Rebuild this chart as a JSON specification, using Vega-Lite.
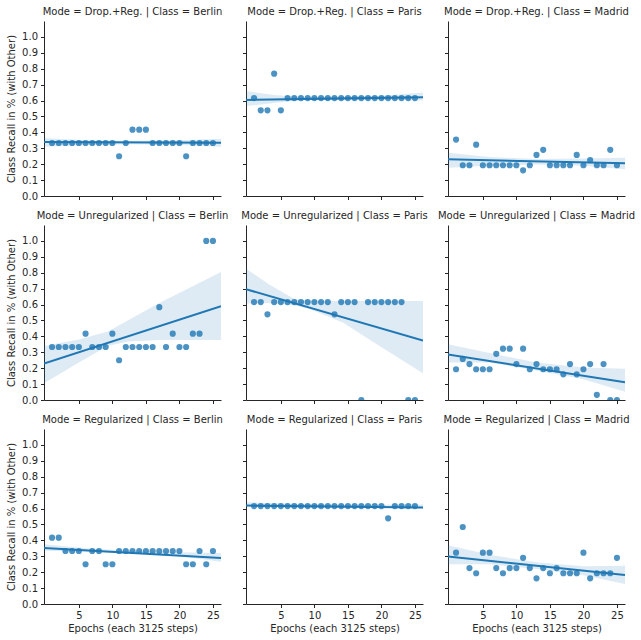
{
  "$schema": "https://vega.github.io/schema/vega-lite/v6.json",
  "padding": {"left": 6, "top": 7, "right": 10, "bottom": 8},
  "background": "white",
  "datasets": {
    "pts": [
      {"mode":"Drop.+Reg.","city":"Berlin","epoch":1,"recall":0.3333},{"mode":"Drop.+Reg.","city":"Berlin","epoch":2,"recall":0.3333},{"mode":"Drop.+Reg.","city":"Berlin","epoch":3,"recall":0.3333},{"mode":"Drop.+Reg.","city":"Berlin","epoch":4,"recall":0.3333},{"mode":"Drop.+Reg.","city":"Berlin","epoch":5,"recall":0.3333},{"mode":"Drop.+Reg.","city":"Berlin","epoch":6,"recall":0.3333},{"mode":"Drop.+Reg.","city":"Berlin","epoch":7,"recall":0.3333},{"mode":"Drop.+Reg.","city":"Berlin","epoch":8,"recall":0.3333},{"mode":"Drop.+Reg.","city":"Berlin","epoch":9,"recall":0.3333},{"mode":"Drop.+Reg.","city":"Berlin","epoch":10,"recall":0.3333},{"mode":"Drop.+Reg.","city":"Berlin","epoch":11,"recall":0.25},{"mode":"Drop.+Reg.","city":"Berlin","epoch":12,"recall":0.3333},{"mode":"Drop.+Reg.","city":"Berlin","epoch":13,"recall":0.4167},{"mode":"Drop.+Reg.","city":"Berlin","epoch":14,"recall":0.4167},{"mode":"Drop.+Reg.","city":"Berlin","epoch":15,"recall":0.4167},{"mode":"Drop.+Reg.","city":"Berlin","epoch":16,"recall":0.3333},{"mode":"Drop.+Reg.","city":"Berlin","epoch":17,"recall":0.3333},{"mode":"Drop.+Reg.","city":"Berlin","epoch":18,"recall":0.3333},{"mode":"Drop.+Reg.","city":"Berlin","epoch":19,"recall":0.3333},{"mode":"Drop.+Reg.","city":"Berlin","epoch":20,"recall":0.3333},{"mode":"Drop.+Reg.","city":"Berlin","epoch":21,"recall":0.25},{"mode":"Drop.+Reg.","city":"Berlin","epoch":22,"recall":0.3333},{"mode":"Drop.+Reg.","city":"Berlin","epoch":23,"recall":0.3333},{"mode":"Drop.+Reg.","city":"Berlin","epoch":24,"recall":0.3333},{"mode":"Drop.+Reg.","city":"Berlin","epoch":25,"recall":0.3333},
      {"mode":"Drop.+Reg.","city":"Paris","epoch":1,"recall":0.6154},{"mode":"Drop.+Reg.","city":"Paris","epoch":2,"recall":0.5385},{"mode":"Drop.+Reg.","city":"Paris","epoch":3,"recall":0.5385},{"mode":"Drop.+Reg.","city":"Paris","epoch":4,"recall":0.7692},{"mode":"Drop.+Reg.","city":"Paris","epoch":5,"recall":0.5385},{"mode":"Drop.+Reg.","city":"Paris","epoch":6,"recall":0.6154},{"mode":"Drop.+Reg.","city":"Paris","epoch":7,"recall":0.6154},{"mode":"Drop.+Reg.","city":"Paris","epoch":8,"recall":0.6154},{"mode":"Drop.+Reg.","city":"Paris","epoch":9,"recall":0.6154},{"mode":"Drop.+Reg.","city":"Paris","epoch":10,"recall":0.6154},{"mode":"Drop.+Reg.","city":"Paris","epoch":11,"recall":0.6154},{"mode":"Drop.+Reg.","city":"Paris","epoch":12,"recall":0.6154},{"mode":"Drop.+Reg.","city":"Paris","epoch":13,"recall":0.6154},{"mode":"Drop.+Reg.","city":"Paris","epoch":14,"recall":0.6154},{"mode":"Drop.+Reg.","city":"Paris","epoch":15,"recall":0.6154},{"mode":"Drop.+Reg.","city":"Paris","epoch":16,"recall":0.6154},{"mode":"Drop.+Reg.","city":"Paris","epoch":17,"recall":0.6154},{"mode":"Drop.+Reg.","city":"Paris","epoch":18,"recall":0.6154},{"mode":"Drop.+Reg.","city":"Paris","epoch":19,"recall":0.6154},{"mode":"Drop.+Reg.","city":"Paris","epoch":20,"recall":0.6154},{"mode":"Drop.+Reg.","city":"Paris","epoch":21,"recall":0.6154},{"mode":"Drop.+Reg.","city":"Paris","epoch":22,"recall":0.6154},{"mode":"Drop.+Reg.","city":"Paris","epoch":23,"recall":0.6154},{"mode":"Drop.+Reg.","city":"Paris","epoch":24,"recall":0.6154},{"mode":"Drop.+Reg.","city":"Paris","epoch":25,"recall":0.6154},
      {"mode":"Drop.+Reg.","city":"Madrid","epoch":1,"recall":0.3548},{"mode":"Drop.+Reg.","city":"Madrid","epoch":2,"recall":0.1935},{"mode":"Drop.+Reg.","city":"Madrid","epoch":3,"recall":0.1935},{"mode":"Drop.+Reg.","city":"Madrid","epoch":4,"recall":0.3226},{"mode":"Drop.+Reg.","city":"Madrid","epoch":5,"recall":0.1935},{"mode":"Drop.+Reg.","city":"Madrid","epoch":6,"recall":0.1935},{"mode":"Drop.+Reg.","city":"Madrid","epoch":7,"recall":0.1935},{"mode":"Drop.+Reg.","city":"Madrid","epoch":8,"recall":0.1935},{"mode":"Drop.+Reg.","city":"Madrid","epoch":9,"recall":0.1935},{"mode":"Drop.+Reg.","city":"Madrid","epoch":10,"recall":0.1935},{"mode":"Drop.+Reg.","city":"Madrid","epoch":11,"recall":0.1613},{"mode":"Drop.+Reg.","city":"Madrid","epoch":12,"recall":0.1935},{"mode":"Drop.+Reg.","city":"Madrid","epoch":13,"recall":0.2581},{"mode":"Drop.+Reg.","city":"Madrid","epoch":14,"recall":0.2903},{"mode":"Drop.+Reg.","city":"Madrid","epoch":15,"recall":0.1935},{"mode":"Drop.+Reg.","city":"Madrid","epoch":16,"recall":0.1935},{"mode":"Drop.+Reg.","city":"Madrid","epoch":17,"recall":0.1935},{"mode":"Drop.+Reg.","city":"Madrid","epoch":18,"recall":0.1935},{"mode":"Drop.+Reg.","city":"Madrid","epoch":19,"recall":0.2581},{"mode":"Drop.+Reg.","city":"Madrid","epoch":20,"recall":0.1935},{"mode":"Drop.+Reg.","city":"Madrid","epoch":21,"recall":0.2258},{"mode":"Drop.+Reg.","city":"Madrid","epoch":22,"recall":0.1935},{"mode":"Drop.+Reg.","city":"Madrid","epoch":23,"recall":0.1935},{"mode":"Drop.+Reg.","city":"Madrid","epoch":24,"recall":0.2903},{"mode":"Drop.+Reg.","city":"Madrid","epoch":25,"recall":0.1935},
      {"mode":"Unregularized","city":"Berlin","epoch":1,"recall":0.3333},{"mode":"Unregularized","city":"Berlin","epoch":2,"recall":0.3333},{"mode":"Unregularized","city":"Berlin","epoch":3,"recall":0.3333},{"mode":"Unregularized","city":"Berlin","epoch":4,"recall":0.3333},{"mode":"Unregularized","city":"Berlin","epoch":5,"recall":0.3333},{"mode":"Unregularized","city":"Berlin","epoch":6,"recall":0.4167},{"mode":"Unregularized","city":"Berlin","epoch":7,"recall":0.3333},{"mode":"Unregularized","city":"Berlin","epoch":8,"recall":0.3333},{"mode":"Unregularized","city":"Berlin","epoch":9,"recall":0.3333},{"mode":"Unregularized","city":"Berlin","epoch":10,"recall":0.4167},{"mode":"Unregularized","city":"Berlin","epoch":11,"recall":0.25},{"mode":"Unregularized","city":"Berlin","epoch":12,"recall":0.3333},{"mode":"Unregularized","city":"Berlin","epoch":13,"recall":0.3333},{"mode":"Unregularized","city":"Berlin","epoch":14,"recall":0.3333},{"mode":"Unregularized","city":"Berlin","epoch":15,"recall":0.3333},{"mode":"Unregularized","city":"Berlin","epoch":16,"recall":0.3333},{"mode":"Unregularized","city":"Berlin","epoch":17,"recall":0.5833},{"mode":"Unregularized","city":"Berlin","epoch":18,"recall":0.3333},{"mode":"Unregularized","city":"Berlin","epoch":19,"recall":0.4167},{"mode":"Unregularized","city":"Berlin","epoch":20,"recall":0.3333},{"mode":"Unregularized","city":"Berlin","epoch":21,"recall":0.3333},{"mode":"Unregularized","city":"Berlin","epoch":22,"recall":0.4167},{"mode":"Unregularized","city":"Berlin","epoch":23,"recall":0.4167},{"mode":"Unregularized","city":"Berlin","epoch":24,"recall":1.0},{"mode":"Unregularized","city":"Berlin","epoch":25,"recall":1.0},
      {"mode":"Unregularized","city":"Paris","epoch":1,"recall":0.6154},{"mode":"Unregularized","city":"Paris","epoch":2,"recall":0.6154},{"mode":"Unregularized","city":"Paris","epoch":3,"recall":0.5385},{"mode":"Unregularized","city":"Paris","epoch":4,"recall":0.6154},{"mode":"Unregularized","city":"Paris","epoch":5,"recall":0.6154},{"mode":"Unregularized","city":"Paris","epoch":6,"recall":0.6154},{"mode":"Unregularized","city":"Paris","epoch":7,"recall":0.6154},{"mode":"Unregularized","city":"Paris","epoch":8,"recall":0.6154},{"mode":"Unregularized","city":"Paris","epoch":9,"recall":0.6154},{"mode":"Unregularized","city":"Paris","epoch":10,"recall":0.6154},{"mode":"Unregularized","city":"Paris","epoch":11,"recall":0.6154},{"mode":"Unregularized","city":"Paris","epoch":12,"recall":0.6154},{"mode":"Unregularized","city":"Paris","epoch":13,"recall":0.5385},{"mode":"Unregularized","city":"Paris","epoch":14,"recall":0.6154},{"mode":"Unregularized","city":"Paris","epoch":15,"recall":0.6154},{"mode":"Unregularized","city":"Paris","epoch":16,"recall":0.6154},{"mode":"Unregularized","city":"Paris","epoch":17,"recall":0.0},{"mode":"Unregularized","city":"Paris","epoch":18,"recall":0.6154},{"mode":"Unregularized","city":"Paris","epoch":19,"recall":0.6154},{"mode":"Unregularized","city":"Paris","epoch":20,"recall":0.6154},{"mode":"Unregularized","city":"Paris","epoch":21,"recall":0.6154},{"mode":"Unregularized","city":"Paris","epoch":22,"recall":0.6154},{"mode":"Unregularized","city":"Paris","epoch":23,"recall":0.6154},{"mode":"Unregularized","city":"Paris","epoch":24,"recall":0.0},{"mode":"Unregularized","city":"Paris","epoch":25,"recall":0.0},
      {"mode":"Unregularized","city":"Madrid","epoch":1,"recall":0.1935},{"mode":"Unregularized","city":"Madrid","epoch":2,"recall":0.2581},{"mode":"Unregularized","city":"Madrid","epoch":3,"recall":0.2258},{"mode":"Unregularized","city":"Madrid","epoch":4,"recall":0.1935},{"mode":"Unregularized","city":"Madrid","epoch":5,"recall":0.1935},{"mode":"Unregularized","city":"Madrid","epoch":6,"recall":0.1935},{"mode":"Unregularized","city":"Madrid","epoch":7,"recall":0.2903},{"mode":"Unregularized","city":"Madrid","epoch":8,"recall":0.3226},{"mode":"Unregularized","city":"Madrid","epoch":9,"recall":0.3226},{"mode":"Unregularized","city":"Madrid","epoch":10,"recall":0.2258},{"mode":"Unregularized","city":"Madrid","epoch":11,"recall":0.3226},{"mode":"Unregularized","city":"Madrid","epoch":12,"recall":0.1935},{"mode":"Unregularized","city":"Madrid","epoch":13,"recall":0.2258},{"mode":"Unregularized","city":"Madrid","epoch":14,"recall":0.1935},{"mode":"Unregularized","city":"Madrid","epoch":15,"recall":0.1935},{"mode":"Unregularized","city":"Madrid","epoch":16,"recall":0.1935},{"mode":"Unregularized","city":"Madrid","epoch":17,"recall":0.1613},{"mode":"Unregularized","city":"Madrid","epoch":18,"recall":0.2258},{"mode":"Unregularized","city":"Madrid","epoch":19,"recall":0.1613},{"mode":"Unregularized","city":"Madrid","epoch":20,"recall":0.1935},{"mode":"Unregularized","city":"Madrid","epoch":21,"recall":0.2258},{"mode":"Unregularized","city":"Madrid","epoch":22,"recall":0.0323},{"mode":"Unregularized","city":"Madrid","epoch":23,"recall":0.2258},{"mode":"Unregularized","city":"Madrid","epoch":24,"recall":0.0},{"mode":"Unregularized","city":"Madrid","epoch":25,"recall":0.0},
      {"mode":"Regularized","city":"Berlin","epoch":1,"recall":0.4167},{"mode":"Regularized","city":"Berlin","epoch":2,"recall":0.4167},{"mode":"Regularized","city":"Berlin","epoch":3,"recall":0.3333},{"mode":"Regularized","city":"Berlin","epoch":4,"recall":0.3333},{"mode":"Regularized","city":"Berlin","epoch":5,"recall":0.3333},{"mode":"Regularized","city":"Berlin","epoch":6,"recall":0.25},{"mode":"Regularized","city":"Berlin","epoch":7,"recall":0.3333},{"mode":"Regularized","city":"Berlin","epoch":8,"recall":0.3333},{"mode":"Regularized","city":"Berlin","epoch":9,"recall":0.25},{"mode":"Regularized","city":"Berlin","epoch":10,"recall":0.25},{"mode":"Regularized","city":"Berlin","epoch":11,"recall":0.3333},{"mode":"Regularized","city":"Berlin","epoch":12,"recall":0.3333},{"mode":"Regularized","city":"Berlin","epoch":13,"recall":0.3333},{"mode":"Regularized","city":"Berlin","epoch":14,"recall":0.3333},{"mode":"Regularized","city":"Berlin","epoch":15,"recall":0.3333},{"mode":"Regularized","city":"Berlin","epoch":16,"recall":0.3333},{"mode":"Regularized","city":"Berlin","epoch":17,"recall":0.3333},{"mode":"Regularized","city":"Berlin","epoch":18,"recall":0.3333},{"mode":"Regularized","city":"Berlin","epoch":19,"recall":0.3333},{"mode":"Regularized","city":"Berlin","epoch":20,"recall":0.3333},{"mode":"Regularized","city":"Berlin","epoch":21,"recall":0.25},{"mode":"Regularized","city":"Berlin","epoch":22,"recall":0.25},{"mode":"Regularized","city":"Berlin","epoch":23,"recall":0.3333},{"mode":"Regularized","city":"Berlin","epoch":24,"recall":0.25},{"mode":"Regularized","city":"Berlin","epoch":25,"recall":0.3333},
      {"mode":"Regularized","city":"Paris","epoch":1,"recall":0.6154},{"mode":"Regularized","city":"Paris","epoch":2,"recall":0.6154},{"mode":"Regularized","city":"Paris","epoch":3,"recall":0.6154},{"mode":"Regularized","city":"Paris","epoch":4,"recall":0.6154},{"mode":"Regularized","city":"Paris","epoch":5,"recall":0.6154},{"mode":"Regularized","city":"Paris","epoch":6,"recall":0.6154},{"mode":"Regularized","city":"Paris","epoch":7,"recall":0.6154},{"mode":"Regularized","city":"Paris","epoch":8,"recall":0.6154},{"mode":"Regularized","city":"Paris","epoch":9,"recall":0.6154},{"mode":"Regularized","city":"Paris","epoch":10,"recall":0.6154},{"mode":"Regularized","city":"Paris","epoch":11,"recall":0.6154},{"mode":"Regularized","city":"Paris","epoch":12,"recall":0.6154},{"mode":"Regularized","city":"Paris","epoch":13,"recall":0.6154},{"mode":"Regularized","city":"Paris","epoch":14,"recall":0.6154},{"mode":"Regularized","city":"Paris","epoch":15,"recall":0.6154},{"mode":"Regularized","city":"Paris","epoch":16,"recall":0.6154},{"mode":"Regularized","city":"Paris","epoch":17,"recall":0.6154},{"mode":"Regularized","city":"Paris","epoch":18,"recall":0.6154},{"mode":"Regularized","city":"Paris","epoch":19,"recall":0.6154},{"mode":"Regularized","city":"Paris","epoch":20,"recall":0.6154},{"mode":"Regularized","city":"Paris","epoch":21,"recall":0.5385},{"mode":"Regularized","city":"Paris","epoch":22,"recall":0.6154},{"mode":"Regularized","city":"Paris","epoch":23,"recall":0.6154},{"mode":"Regularized","city":"Paris","epoch":24,"recall":0.6154},{"mode":"Regularized","city":"Paris","epoch":25,"recall":0.6154},
      {"mode":"Regularized","city":"Madrid","epoch":1,"recall":0.3226},{"mode":"Regularized","city":"Madrid","epoch":2,"recall":0.4839},{"mode":"Regularized","city":"Madrid","epoch":3,"recall":0.2258},{"mode":"Regularized","city":"Madrid","epoch":4,"recall":0.1935},{"mode":"Regularized","city":"Madrid","epoch":5,"recall":0.3226},{"mode":"Regularized","city":"Madrid","epoch":6,"recall":0.3226},{"mode":"Regularized","city":"Madrid","epoch":7,"recall":0.2258},{"mode":"Regularized","city":"Madrid","epoch":8,"recall":0.1935},{"mode":"Regularized","city":"Madrid","epoch":9,"recall":0.2258},{"mode":"Regularized","city":"Madrid","epoch":10,"recall":0.2258},{"mode":"Regularized","city":"Madrid","epoch":11,"recall":0.2903},{"mode":"Regularized","city":"Madrid","epoch":12,"recall":0.2258},{"mode":"Regularized","city":"Madrid","epoch":13,"recall":0.1613},{"mode":"Regularized","city":"Madrid","epoch":14,"recall":0.2258},{"mode":"Regularized","city":"Madrid","epoch":15,"recall":0.1935},{"mode":"Regularized","city":"Madrid","epoch":16,"recall":0.2258},{"mode":"Regularized","city":"Madrid","epoch":17,"recall":0.1935},{"mode":"Regularized","city":"Madrid","epoch":18,"recall":0.1935},{"mode":"Regularized","city":"Madrid","epoch":19,"recall":0.1935},{"mode":"Regularized","city":"Madrid","epoch":20,"recall":0.3226},{"mode":"Regularized","city":"Madrid","epoch":21,"recall":0.1613},{"mode":"Regularized","city":"Madrid","epoch":22,"recall":0.1935},{"mode":"Regularized","city":"Madrid","epoch":23,"recall":0.1935},{"mode":"Regularized","city":"Madrid","epoch":24,"recall":0.1935},{"mode":"Regularized","city":"Madrid","epoch":25,"recall":0.2903}
    ],
    "band": [
      {"mode":"Drop.+Reg.","city":"Berlin","epoch":-0.2,"lo":0.31,"hi":0.365},{"mode":"Drop.+Reg.","city":"Berlin","epoch":6,"lo":0.32,"hi":0.35},{"mode":"Drop.+Reg.","city":"Berlin","epoch":13,"lo":0.325,"hi":0.348},{"mode":"Drop.+Reg.","city":"Berlin","epoch":20,"lo":0.32,"hi":0.35},{"mode":"Drop.+Reg.","city":"Berlin","epoch":26.2,"lo":0.31,"hi":0.36},
      {"mode":"Drop.+Reg.","city":"Paris","epoch":-0.2,"lo":0.565,"hi":0.66},{"mode":"Drop.+Reg.","city":"Paris","epoch":4,"lo":0.585,"hi":0.635},{"mode":"Drop.+Reg.","city":"Paris","epoch":8,"lo":0.603,"hi":0.622},{"mode":"Drop.+Reg.","city":"Paris","epoch":13,"lo":0.607,"hi":0.62},{"mode":"Drop.+Reg.","city":"Paris","epoch":20,"lo":0.607,"hi":0.63},{"mode":"Drop.+Reg.","city":"Paris","epoch":26.2,"lo":0.6,"hi":0.65},
      {"mode":"Drop.+Reg.","city":"Madrid","epoch":-0.2,"lo":0.178,"hi":0.272},{"mode":"Drop.+Reg.","city":"Madrid","epoch":6,"lo":0.19,"hi":0.245},{"mode":"Drop.+Reg.","city":"Madrid","epoch":13,"lo":0.198,"hi":0.232},{"mode":"Drop.+Reg.","city":"Madrid","epoch":20,"lo":0.19,"hi":0.235},{"mode":"Drop.+Reg.","city":"Madrid","epoch":26.2,"lo":0.168,"hi":0.241},
      {"mode":"Unregularized","city":"Berlin","epoch":-0.2,"lo":0.105,"hi":0.34},{"mode":"Unregularized","city":"Berlin","epoch":5,"lo":0.235,"hi":0.38},{"mode":"Unregularized","city":"Berlin","epoch":9.3,"lo":0.34,"hi":0.43},{"mode":"Unregularized","city":"Berlin","epoch":12.3,"lo":0.367,"hi":0.5},{"mode":"Unregularized","city":"Berlin","epoch":17,"lo":0.377,"hi":0.61},{"mode":"Unregularized","city":"Berlin","epoch":26.2,"lo":0.377,"hi":0.805},
      {"mode":"Unregularized","city":"Paris","epoch":-0.2,"lo":0.606,"hi":0.826},{"mode":"Unregularized","city":"Paris","epoch":3.2,"lo":0.61,"hi":0.727},{"mode":"Unregularized","city":"Paris","epoch":7,"lo":0.595,"hi":0.635},{"mode":"Unregularized","city":"Paris","epoch":9.4,"lo":0.57,"hi":0.623},{"mode":"Unregularized","city":"Paris","epoch":14.3,"lo":0.486,"hi":0.623},{"mode":"Unregularized","city":"Paris","epoch":19.3,"lo":0.35,"hi":0.623},{"mode":"Unregularized","city":"Paris","epoch":26.2,"lo":0.168,"hi":0.623},
      {"mode":"Unregularized","city":"Madrid","epoch":-0.2,"lo":0.235,"hi":0.35},{"mode":"Unregularized","city":"Madrid","epoch":6,"lo":0.235,"hi":0.295},{"mode":"Unregularized","city":"Madrid","epoch":13,"lo":0.185,"hi":0.235},{"mode":"Unregularized","city":"Madrid","epoch":20,"lo":0.13,"hi":0.205},{"mode":"Unregularized","city":"Madrid","epoch":26.2,"lo":0.052,"hi":0.197},
      {"mode":"Regularized","city":"Berlin","epoch":-0.2,"lo":0.335,"hi":0.375},{"mode":"Regularized","city":"Berlin","epoch":6,"lo":0.33,"hi":0.35},{"mode":"Regularized","city":"Berlin","epoch":13,"lo":0.317,"hi":0.333},{"mode":"Regularized","city":"Berlin","epoch":20,"lo":0.3,"hi":0.325},{"mode":"Regularized","city":"Berlin","epoch":26.2,"lo":0.265,"hi":0.32},
      {"mode":"Regularized","city":"Paris","epoch":-0.2,"lo":0.615,"hi":0.64},{"mode":"Regularized","city":"Paris","epoch":13,"lo":0.613,"hi":0.622},{"mode":"Regularized","city":"Paris","epoch":26.2,"lo":0.598,"hi":0.625},
      {"mode":"Regularized","city":"Madrid","epoch":-0.2,"lo":0.25,"hi":0.37},{"mode":"Regularized","city":"Madrid","epoch":6,"lo":0.25,"hi":0.31},{"mode":"Regularized","city":"Madrid","epoch":13,"lo":0.22,"hi":0.262},{"mode":"Regularized","city":"Madrid","epoch":20,"lo":0.18,"hi":0.238},{"mode":"Regularized","city":"Madrid","epoch":26.2,"lo":0.125,"hi":0.24}
    ]
  },
  "columns": 3,
  "bounds": "flush",
  "spacing": {"row": 29, "column": 25},
  "concat": [
      {"title":"Mode = Drop.+Reg. | Class = Berlin","width":177,"height":175,"layer":[
        {"data":{"name":"pts"},"transform":[{"filter":"datum.mode==='Drop.+Reg.' && datum.city==='Berlin'"}],"mark":{"type":"circle","clip":true},"encoding":{"x":{"field":"epoch","type":"quantitative","scale":{"domain":[-0.2,26.2],"nice":false,"zero":false},"axis":{"values":[5,10,15,20,25],"labels":false,"title":null}},"y":{"field":"recall","type":"quantitative","scale":{"domain":[0,1.1],"nice":false},"axis":{"values":[0,0.1,0.2,0.3,0.4,0.5,0.6,0.7,0.8,0.9,1.0],"format":".1f","title":"Class Recall in % (with Other)"}}}},
        {"data":{"name":"band"},"transform":[{"filter":"datum.mode==='Drop.+Reg.' && datum.city==='Berlin'"}],"mark":{"type":"area","clip":true},"encoding":{"x":{"field":"epoch","type":"quantitative"},"y":{"field":"lo","type":"quantitative"},"y2":{"field":"hi"}}},
        {"data":{"name":"pts"},"transform":[{"filter":"datum.mode==='Drop.+Reg.' && datum.city==='Berlin'"},{"regression":"recall","on":"epoch","extent":[-0.2,26.2]}],"mark":{"type":"line","clip":true},"encoding":{"x":{"field":"epoch","type":"quantitative"},"y":{"field":"recall","type":"quantitative"}}}
      ]},
      {"title":"Mode = Drop.+Reg. | Class = Paris","width":177,"height":175,"layer":[
        {"data":{"name":"pts"},"transform":[{"filter":"datum.mode==='Drop.+Reg.' && datum.city==='Paris'"}],"mark":{"type":"circle","clip":true},"encoding":{"x":{"field":"epoch","type":"quantitative","scale":{"domain":[-0.2,26.2],"nice":false,"zero":false},"axis":{"values":[5,10,15,20,25],"labels":false,"title":null}},"y":{"field":"recall","type":"quantitative","scale":{"domain":[0,1.1],"nice":false},"axis":{"values":[0,0.1,0.2,0.3,0.4,0.5,0.6,0.7,0.8,0.9,1.0],"labels":false,"title":null}}}},
        {"data":{"name":"band"},"transform":[{"filter":"datum.mode==='Drop.+Reg.' && datum.city==='Paris'"}],"mark":{"type":"area","clip":true},"encoding":{"x":{"field":"epoch","type":"quantitative"},"y":{"field":"lo","type":"quantitative"},"y2":{"field":"hi"}}},
        {"data":{"name":"pts"},"transform":[{"filter":"datum.mode==='Drop.+Reg.' && datum.city==='Paris'"},{"regression":"recall","on":"epoch","extent":[-0.2,26.2]}],"mark":{"type":"line","clip":true},"encoding":{"x":{"field":"epoch","type":"quantitative"},"y":{"field":"recall","type":"quantitative"}}}
      ]},
      {"title":"Mode = Drop.+Reg. | Class = Madrid","width":177,"height":175,"layer":[
        {"data":{"name":"pts"},"transform":[{"filter":"datum.mode==='Drop.+Reg.' && datum.city==='Madrid'"}],"mark":{"type":"circle","clip":true},"encoding":{"x":{"field":"epoch","type":"quantitative","scale":{"domain":[-0.2,26.2],"nice":false,"zero":false},"axis":{"values":[5,10,15,20,25],"labels":false,"title":null}},"y":{"field":"recall","type":"quantitative","scale":{"domain":[0,1.1],"nice":false},"axis":{"values":[0,0.1,0.2,0.3,0.4,0.5,0.6,0.7,0.8,0.9,1.0],"labels":false,"title":null}}}},
        {"data":{"name":"band"},"transform":[{"filter":"datum.mode==='Drop.+Reg.' && datum.city==='Madrid'"}],"mark":{"type":"area","clip":true},"encoding":{"x":{"field":"epoch","type":"quantitative"},"y":{"field":"lo","type":"quantitative"},"y2":{"field":"hi"}}},
        {"data":{"name":"pts"},"transform":[{"filter":"datum.mode==='Drop.+Reg.' && datum.city==='Madrid'"},{"regression":"recall","on":"epoch","extent":[-0.2,26.2]}],"mark":{"type":"line","clip":true},"encoding":{"x":{"field":"epoch","type":"quantitative"},"y":{"field":"recall","type":"quantitative"}}}
      ]},
      {"title":"Mode = Unregularized | Class = Berlin","width":177,"height":175,"layer":[
        {"data":{"name":"pts"},"transform":[{"filter":"datum.mode==='Unregularized' && datum.city==='Berlin'"}],"mark":{"type":"circle","clip":true},"encoding":{"x":{"field":"epoch","type":"quantitative","scale":{"domain":[-0.2,26.2],"nice":false,"zero":false},"axis":{"values":[5,10,15,20,25],"labels":false,"title":null}},"y":{"field":"recall","type":"quantitative","scale":{"domain":[0,1.1],"nice":false},"axis":{"values":[0,0.1,0.2,0.3,0.4,0.5,0.6,0.7,0.8,0.9,1.0],"format":".1f","title":"Class Recall in % (with Other)"}}}},
        {"data":{"name":"band"},"transform":[{"filter":"datum.mode==='Unregularized' && datum.city==='Berlin'"}],"mark":{"type":"area","clip":true},"encoding":{"x":{"field":"epoch","type":"quantitative"},"y":{"field":"lo","type":"quantitative"},"y2":{"field":"hi"}}},
        {"data":{"name":"pts"},"transform":[{"filter":"datum.mode==='Unregularized' && datum.city==='Berlin'"},{"regression":"recall","on":"epoch","extent":[-0.2,26.2]}],"mark":{"type":"line","clip":true},"encoding":{"x":{"field":"epoch","type":"quantitative"},"y":{"field":"recall","type":"quantitative"}}}
      ]},
      {"title":"Mode = Unregularized | Class = Paris","width":177,"height":175,"layer":[
        {"data":{"name":"pts"},"transform":[{"filter":"datum.mode==='Unregularized' && datum.city==='Paris'"}],"mark":{"type":"circle","clip":true},"encoding":{"x":{"field":"epoch","type":"quantitative","scale":{"domain":[-0.2,26.2],"nice":false,"zero":false},"axis":{"values":[5,10,15,20,25],"labels":false,"title":null}},"y":{"field":"recall","type":"quantitative","scale":{"domain":[0,1.1],"nice":false},"axis":{"values":[0,0.1,0.2,0.3,0.4,0.5,0.6,0.7,0.8,0.9,1.0],"labels":false,"title":null}}}},
        {"data":{"name":"band"},"transform":[{"filter":"datum.mode==='Unregularized' && datum.city==='Paris'"}],"mark":{"type":"area","clip":true},"encoding":{"x":{"field":"epoch","type":"quantitative"},"y":{"field":"lo","type":"quantitative"},"y2":{"field":"hi"}}},
        {"data":{"name":"pts"},"transform":[{"filter":"datum.mode==='Unregularized' && datum.city==='Paris'"},{"regression":"recall","on":"epoch","extent":[-0.2,26.2]}],"mark":{"type":"line","clip":true},"encoding":{"x":{"field":"epoch","type":"quantitative"},"y":{"field":"recall","type":"quantitative"}}}
      ]},
      {"title":"Mode = Unregularized | Class = Madrid","width":177,"height":175,"layer":[
        {"data":{"name":"pts"},"transform":[{"filter":"datum.mode==='Unregularized' && datum.city==='Madrid'"}],"mark":{"type":"circle","clip":true},"encoding":{"x":{"field":"epoch","type":"quantitative","scale":{"domain":[-0.2,26.2],"nice":false,"zero":false},"axis":{"values":[5,10,15,20,25],"labels":false,"title":null}},"y":{"field":"recall","type":"quantitative","scale":{"domain":[0,1.1],"nice":false},"axis":{"values":[0,0.1,0.2,0.3,0.4,0.5,0.6,0.7,0.8,0.9,1.0],"labels":false,"title":null}}}},
        {"data":{"name":"band"},"transform":[{"filter":"datum.mode==='Unregularized' && datum.city==='Madrid'"}],"mark":{"type":"area","clip":true},"encoding":{"x":{"field":"epoch","type":"quantitative"},"y":{"field":"lo","type":"quantitative"},"y2":{"field":"hi"}}},
        {"data":{"name":"pts"},"transform":[{"filter":"datum.mode==='Unregularized' && datum.city==='Madrid'"},{"regression":"recall","on":"epoch","extent":[-0.2,26.2]}],"mark":{"type":"line","clip":true},"encoding":{"x":{"field":"epoch","type":"quantitative"},"y":{"field":"recall","type":"quantitative"}}}
      ]},
      {"title":"Mode = Regularized | Class = Berlin","width":177,"height":175,"layer":[
        {"data":{"name":"pts"},"transform":[{"filter":"datum.mode==='Regularized' && datum.city==='Berlin'"}],"mark":{"type":"circle","clip":true},"encoding":{"x":{"field":"epoch","type":"quantitative","scale":{"domain":[-0.2,26.2],"nice":false,"zero":false},"axis":{"values":[5,10,15,20,25],"title":"Epochs (each 3125 steps)"}},"y":{"field":"recall","type":"quantitative","scale":{"domain":[0,1.1],"nice":false},"axis":{"values":[0,0.1,0.2,0.3,0.4,0.5,0.6,0.7,0.8,0.9,1.0],"format":".1f","title":"Class Recall in % (with Other)"}}}},
        {"data":{"name":"band"},"transform":[{"filter":"datum.mode==='Regularized' && datum.city==='Berlin'"}],"mark":{"type":"area","clip":true},"encoding":{"x":{"field":"epoch","type":"quantitative"},"y":{"field":"lo","type":"quantitative"},"y2":{"field":"hi"}}},
        {"data":{"name":"pts"},"transform":[{"filter":"datum.mode==='Regularized' && datum.city==='Berlin'"},{"regression":"recall","on":"epoch","extent":[-0.2,26.2]}],"mark":{"type":"line","clip":true},"encoding":{"x":{"field":"epoch","type":"quantitative"},"y":{"field":"recall","type":"quantitative"}}}
      ]},
      {"title":"Mode = Regularized | Class = Paris","width":177,"height":175,"layer":[
        {"data":{"name":"pts"},"transform":[{"filter":"datum.mode==='Regularized' && datum.city==='Paris'"}],"mark":{"type":"circle","clip":true},"encoding":{"x":{"field":"epoch","type":"quantitative","scale":{"domain":[-0.2,26.2],"nice":false,"zero":false},"axis":{"values":[5,10,15,20,25],"title":"Epochs (each 3125 steps)"}},"y":{"field":"recall","type":"quantitative","scale":{"domain":[0,1.1],"nice":false},"axis":{"values":[0,0.1,0.2,0.3,0.4,0.5,0.6,0.7,0.8,0.9,1.0],"labels":false,"title":null}}}},
        {"data":{"name":"band"},"transform":[{"filter":"datum.mode==='Regularized' && datum.city==='Paris'"}],"mark":{"type":"area","clip":true},"encoding":{"x":{"field":"epoch","type":"quantitative"},"y":{"field":"lo","type":"quantitative"},"y2":{"field":"hi"}}},
        {"data":{"name":"pts"},"transform":[{"filter":"datum.mode==='Regularized' && datum.city==='Paris'"},{"regression":"recall","on":"epoch","extent":[-0.2,26.2]}],"mark":{"type":"line","clip":true},"encoding":{"x":{"field":"epoch","type":"quantitative"},"y":{"field":"recall","type":"quantitative"}}}
      ]},
      {"title":"Mode = Regularized | Class = Madrid","width":177,"height":175,"layer":[
        {"data":{"name":"pts"},"transform":[{"filter":"datum.mode==='Regularized' && datum.city==='Madrid'"}],"mark":{"type":"circle","clip":true},"encoding":{"x":{"field":"epoch","type":"quantitative","scale":{"domain":[-0.2,26.2],"nice":false,"zero":false},"axis":{"values":[5,10,15,20,25],"title":"Epochs (each 3125 steps)"}},"y":{"field":"recall","type":"quantitative","scale":{"domain":[0,1.1],"nice":false},"axis":{"values":[0,0.1,0.2,0.3,0.4,0.5,0.6,0.7,0.8,0.9,1.0],"labels":false,"title":null}}}},
        {"data":{"name":"band"},"transform":[{"filter":"datum.mode==='Regularized' && datum.city==='Madrid'"}],"mark":{"type":"area","clip":true},"encoding":{"x":{"field":"epoch","type":"quantitative"},"y":{"field":"lo","type":"quantitative"},"y2":{"field":"hi"}}},
        {"data":{"name":"pts"},"transform":[{"filter":"datum.mode==='Regularized' && datum.city==='Madrid'"},{"regression":"recall","on":"epoch","extent":[-0.2,26.2]}],"mark":{"type":"line","clip":true},"encoding":{"x":{"field":"epoch","type":"quantitative"},"y":{"field":"recall","type":"quantitative"}}}
      ]}
  ],
  "config": {
    "font": "DejaVu Sans",
    "view": {"stroke": null},
    "circle": {"color": "#1f77b4", "opacity": 0.8, "size": 38},
    "area": {"color": "#1f77b4", "opacity": 0.15},
    "line": {"color": "#1f77b4", "strokeWidth": 2},
    "axis": {"grid": false, "domainColor": "#262626", "tickColor": "#262626", "labelColor": "#262626", "titleColor": "#262626", "labelFontSize": 10, "titleFontSize": 10, "titleFontWeight": "normal", "tickSize": 3.5, "labelPadding": 3, "domainWidth": 1, "tickWidth": 1, "labelFont": "DejaVu Sans", "titleFont": "DejaVu Sans", "labelOverlap": false, "tickCount": 11},
    "axisY": {"titlePadding": 5, "labelFlush": false},
    "axisX": {"titlePadding": 3, "labelFlush": false},
    "title": {"fontSize": 10, "fontWeight": "normal", "color": "#262626", "offset": 4, "font": "DejaVu Sans"}
  }
}
